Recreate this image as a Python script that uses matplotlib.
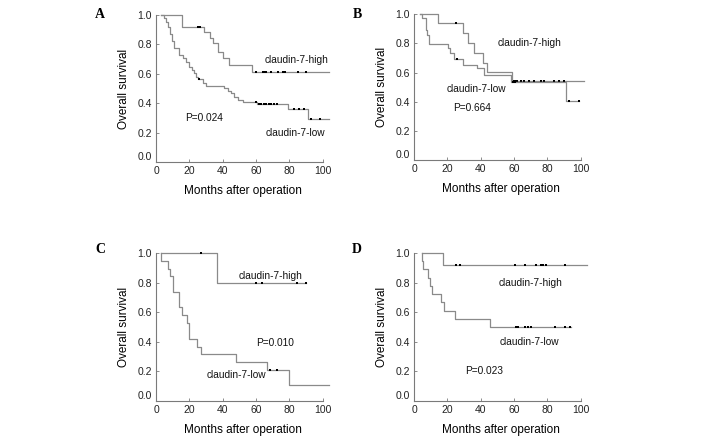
import numpy as np
import matplotlib
matplotlib.use("Agg")
import matplotlib.pyplot as plt

plt.rcParams['font.family'] = ['Liberation Sans', 'DejaVu Sans']

# ---- Kaplan-Meier step data (time in months, survival) ----
# Panel A
a_high_t = [3.0, 15.8, 29.0, 32.4, 34.4, 37.4, 40.4, 44.0, 57.4]
a_high_s = [1.0, 0.920, 0.886, 0.841, 0.807, 0.750, 0.705, 0.660, 0.614]
a_high_cens = [25.0, 26.4, 60.0, 64.0, 65.0, 66.0, 68.8, 73.0, 76.0, 77.4, 85.0, 89.8]
a_high_end = 104
a_low_t = [3.0, 5.0, 6.0, 7.0, 8.5, 9.5, 10.5, 13.5, 16.0, 18.0, 20.0, 21.5, 23.0,
           24.0, 25.0, 28.0, 30.0, 41.0, 43.0, 45.0, 47.0, 49.0, 52.0, 60.5, 79.0, 91.0]
a_low_s = [1.0, 0.98, 0.955, 0.92, 0.87, 0.82, 0.773, 0.728, 0.705, 0.682, 0.648, 0.625,
           0.603, 0.58, 0.565, 0.535, 0.519, 0.50, 0.485, 0.467, 0.444, 0.422, 0.41,
           0.395, 0.358, 0.29]
a_low_cens = [26.0, 60.0, 61.5, 63.0, 64.5, 66.0, 67.5, 69.0, 71.0, 72.5, 83.0, 86.0,
              89.0, 93.0, 98.5]
a_low_end = 104

# Panel B
b_high_t = [3.6, 14.5, 29.1, 32.1, 36.1, 41.2, 44.0, 59.0]
b_high_s = [1.0, 0.938, 0.87, 0.80, 0.735, 0.665, 0.605, 0.54]
b_high_cens = [25.0, 60.0, 61.0, 62.0, 64.0, 66.0, 69.0, 72.0, 76.0, 78.0, 84.0, 87.0, 90.0]
b_high_end = 102
b_low_t = [3.6, 4.6, 7.0, 8.0, 9.0, 20.1, 21.7, 24.1, 29.1, 38.0, 42.2, 58.2, 91.0]
b_low_s = [1.0, 0.972, 0.892, 0.858, 0.794, 0.766, 0.732, 0.693, 0.652, 0.629, 0.583, 0.535, 0.405]
b_low_cens = [26.0, 59.5, 60.5, 93.0, 99.0]
b_low_end = 99

# Panel C
c_high_t = [3.0, 36.4]
c_high_s = [1.0, 0.8]
c_high_cens = [26.8, 59.8, 63.8, 84.8, 89.8]
c_high_end = 89.8
c_low_t = [3.0, 3.1, 7.0, 8.4, 10.0, 13.8, 15.8, 18.8, 19.8, 24.8, 26.8, 47.8, 66.4, 79.8]
c_low_s = [1.0, 0.947, 0.895, 0.842, 0.737, 0.632, 0.579, 0.526, 0.421, 0.368, 0.316,
           0.263, 0.21, 0.105]
c_low_cens = [68.4, 72.4]
c_low_end = 104

# Panel D
d_high_t = [4.6, 17.4]
d_high_s = [1.0, 0.917]
d_high_cens = [25.4, 27.4, 60.4, 66.4, 73.4, 76.4, 77.4, 79.4, 90.4]
d_high_end = 104
d_low_t = [4.6, 4.7, 5.6, 8.6, 9.6, 10.6, 16.4, 18.0, 24.4, 45.4]
d_low_s = [1.0, 0.944, 0.889, 0.833, 0.778, 0.722, 0.667, 0.611, 0.556, 0.5]
d_low_cens = [61.4, 62.4, 66.4, 68.4, 70.4, 84.4, 90.4, 93.4]
d_low_end = 94

# labels: (text, x, y, ha)
a_texts = [("claudin-7-high", 84.4, 0.694, "center"), ("P=0.024", 17.4, 0.30, "left"),
           ("claudin-7-low", 83.4, 0.195, "center")]
b_texts = [("claudin-7-high", 69.6, 0.80, "center"), ("claudin-7-low", 37.6, 0.49, "center"),
           ("P=0.664", 23.6, 0.354, "left")]
c_texts = [("claudin-7-high", 69.0, 0.845, "center"), ("P=0.010", 59.8, 0.395, "left"),
           ("claudin-7-low", 48.0, 0.177, "center")]
d_texts = [("claudin-7-high", 70.0, 0.80, "center"), ("claudin-7-low", 69.0, 0.398, "center"),
           ("P=0.023", 30.6, 0.20, "left")]

LINE_C = '#8a8a8a'
AX_C = '#7a7a7a'


def km_curve(ax, t, s, cens, end):
    t = np.asarray(t, float)
    s = np.asarray(s, float)
    xs = np.append(t, end)
    ys = np.append(s, s[-1])
    ax.step(xs, ys, where='post', color=LINE_C, lw=0.9, clip_on=False)
    cens = np.asarray(cens, float)
    cy = s[np.searchsorted(t, cens, side='right') - 1]
    ax.plot(cens, cy, 's', color='black', ms=2.0, mew=0, clip_on=False)


def panel(rect, curves, texts):
    ax = fig.add_axes(rect)
    for c in curves:
        km_curve(ax, *c)
    ax.set_xlim(0, 104)
    ax.set_ylim(0, 1.0)
    ax.set_xticks(np.arange(0, 101, 20))
    ax.set_yticks(np.arange(0, 1.01, 0.2))
    ax.set_yticklabels([f"{v:.1f}" for v in np.arange(0, 1.01, 0.2)])
    ax.spines['top'].set_visible(False)
    ax.spines['right'].set_visible(False)
    ax.spines['bottom'].set_bounds(0, 100)
    for sp in ('left', 'bottom'):
        ax.spines[sp].set_color(AX_C)
        ax.spines[sp].set_linewidth(0.8)
    ax.tick_params(direction='in', length=2, width=0.6, color=AX_C,
                   labelsize=7.5, labelcolor='#222222', pad=3)
    ax.get_yticklabels()[0].set_va('bottom')
    ax.set_xlabel('Months after operation', fontsize=8.5, labelpad=6.5)
    ax.set_ylabel('Overall survival', fontsize=8.5, labelpad=5)
    for txt, x, y, ha in texts:
        ax.text(x, y, txt, fontsize=7.3, ha=ha, va='center', color='#111111')
    return ax


fig = plt.figure(figsize=(7.08, 4.36), dpi=100)

W, H = 708, 436
def rect(left_px, top_px, bottom_px, right_px):
    return [left_px / W, 1 - bottom_px / H, (right_px - left_px) / W, (bottom_px - top_px) / H]

panel(rect(156, 15, 162, 329.4),
      [(a_high_t, a_high_s, a_high_cens, a_high_end), (a_low_t, a_low_s, a_low_cens, a_low_end)],
      a_texts)
panel(rect(414, 14.3, 160, 587.4),
      [(b_high_t, b_high_s, b_high_cens, b_high_end), (b_low_t, b_low_s, b_low_cens, b_low_end)],
      b_texts)
panel(rect(156, 253, 401, 329.4),
      [(c_high_t, c_high_s, c_high_cens, c_high_end), (c_low_t, c_low_s, c_low_cens, c_low_end)],
      c_texts)
panel(rect(414, 253, 401, 587.4),
      [(d_high_t, d_high_s, d_high_cens, d_high_end), (d_low_t, d_low_s, d_low_cens, d_low_end)],
      d_texts)

for lab, x, y in [("A", 100, 15), ("B", 357, 15), ("C", 100, 249), ("D", 357, 249)]:
    fig.text(x / W, 1 - y / H, lab, family=['Liberation Serif', 'DejaVu Serif'],
             fontweight='bold', fontsize=10, ha='center', va='center')

fig.savefig('out.png', dpi=100)
